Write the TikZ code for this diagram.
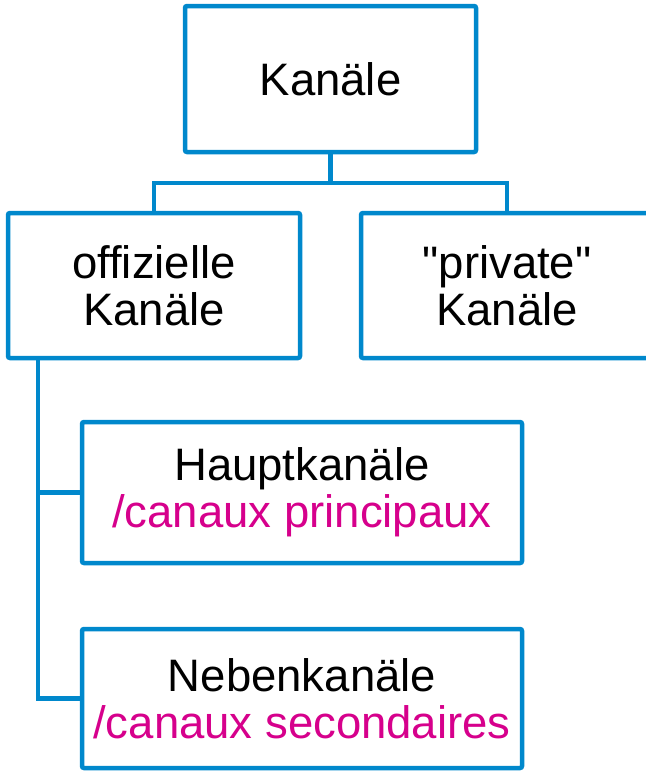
\documentclass[tikz,border=0pt]{standalone}
\usepackage{fontspec}
\setmainfont{Liberation Sans}
\definecolor{chartblue}{RGB}{0,136,204}
\definecolor{frmagenta}{RGB}{214,0,140}
\tikzset{
    chanbox/.style={draw=chartblue, line width=4.5pt, rounded corners=2pt, fill=white,
        align=center, inner sep=0pt, font=\fontsize{45.5}{47}\selectfont},
    link/.style={draw=chartblue, line width=4.5pt}
}
\begin{document}
\begin{tikzpicture}[x=1pt, y=-1pt]
        \useasboundingbox (0,0) rectangle (646,772);

        \node [chanbox, minimum width=291pt, minimum height=146pt] (kanaele) at (330.5,79) {Kan\"ale};
        \node [chanbox, minimum width=292pt, minimum height=145pt] (offiziell) at (154,285.5) {offizielle\\Kan\"ale};
        \node [chanbox, minimum width=292pt, minimum height=145pt] (privat) at (507,285.5) {\textquotedbl private\textquotedbl\\Kan\"ale};
        \node [chanbox, minimum width=440pt, minimum height=141pt] (haupt) at (302,492.5) {Hauptkan\"ale\\\textcolor{frmagenta}{/canaux principaux}};
        \node [chanbox, minimum width=440pt, minimum height=139pt] (neben) at (302,698.5) {Nebenkan\"ale\\\textcolor{frmagenta}{/canaux secondaires}};

        \coordinate (bar) at (330.5,183);
        \coordinate (stem) at (38,358);

        \draw [link] (kanaele.south) -- (bar) -| (offiziell.north);
        \draw [link] (bar) -| (privat.north);
        \draw [link] (stem) |- (haupt.west);
        \draw [link] (stem) |- (neben.west);

    \end{tikzpicture}
\end{document}
